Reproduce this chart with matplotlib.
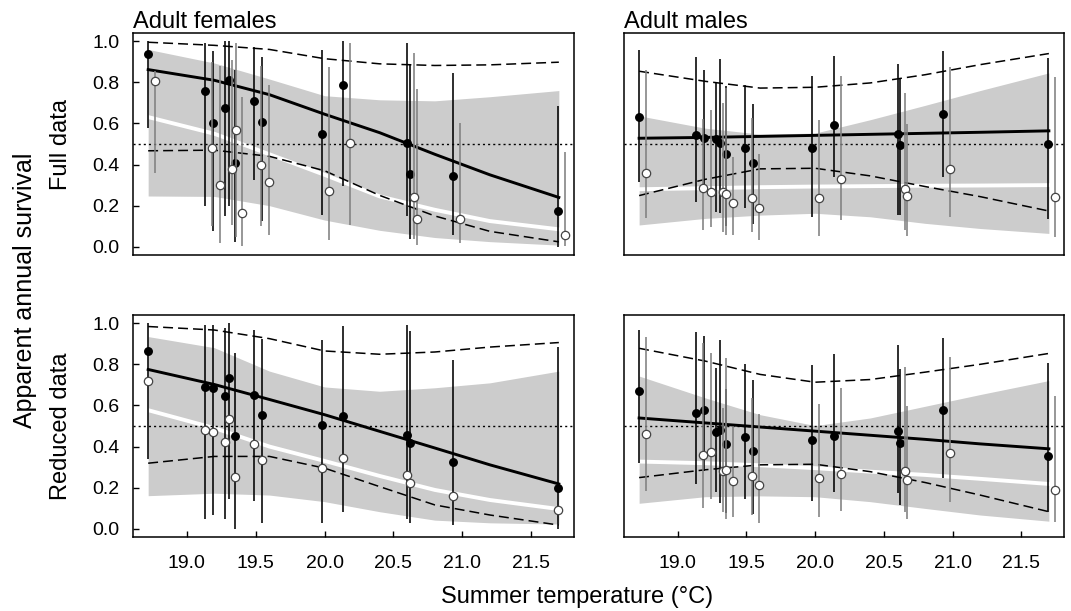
import matplotlib
matplotlib.use("Agg")
import matplotlib.pyplot as plt

plt.rcParams['font.family'] = ['Liberation Sans', 'DejaVu Sans']

# summer temperature of each year; open points are drawn slightly to the right
temps = [18.72, 19.135, 19.19, 19.28, 19.305, 19.35, 19.49, 19.545,
         19.98, 20.135, 20.6, 20.62, 20.93, 21.695]
open_shift = 0.05

# fitted curves are read at these temperatures
curve_t = [18.72, 19.2, 19.6, 20.0, 20.4, 20.8, 21.2, 21.7]

# ---- adult females, full data
ff_black = [0.938, 0.759, 0.602, 0.676, 0.813, 0.407, 0.707, 0.608, 0.551, 0.785, 0.507, 0.353, 0.346, 0.172]
ff_black_hi = [1.0, 0.99, 0.954, 1.0, 1.0, 0.862, 0.97, 0.924, 0.956, 1.0, 0.99, 0.886, 0.846, 0.686]
ff_black_lo = [0.577, 0.198, 0.078, 0.15, 0.2, 0.024, 0.325, 0.124, 0.154, 0.298, 0.15, 0.04, 0.057, 0.0]
ff_open = [0.805, 0.48, 0.302, 0.376, 0.569, 0.166, 0.398, 0.314, 0.27, 0.507, 0.242, 0.137, 0.133, 0.057]
ff_open_hi = [0.854, 0.9, 0.878, 0.91, 0.99, 0.728, 0.88, 0.785, 0.873, 0.99, 0.943, 0.77, 0.6, 0.463]
ff_open_lo = [0.361, 0.1, 0.02, 0.106, 0.05, 0.005, 0.1, 0.057, 0.033, 0.106, 0.04, 0.008, 0.016, 0.003]
ff_fit = [0.862, 0.81, 0.74, 0.645, 0.555, 0.45, 0.35, 0.24]
ff_band_hi = [0.96, 0.894, 0.816, 0.735, 0.715, 0.71, 0.73, 0.76]
ff_band_lo = [0.247, 0.245, 0.2, 0.13, 0.08, 0.045, 0.025, 0.008]
ff_white = [0.631, 0.55, 0.45, 0.35, 0.245, 0.18, 0.125, 0.085]
ff_dash_hi = [0.995, 0.98, 0.96, 0.915, 0.89, 0.882, 0.885, 0.898]
ff_dash_lo = [0.467, 0.47, 0.44, 0.37, 0.25, 0.15, 0.075, 0.024]

# ---- adult males, full data
mf_black = [0.629, 0.545, 0.528, 0.525, 0.504, 0.45, 0.481, 0.41, 0.48, 0.593, 0.548, 0.494, 0.647, 0.498]
mf_black_hi = [0.956, 0.924, 0.862, 0.8, 0.914, 0.78, 0.789, 0.694, 0.83, 0.93, 0.89, 0.816, 0.951, 0.919]
mf_black_lo = [0.317, 0.22, 0.3, 0.17, 0.166, 0.1, 0.187, 0.11, 0.146, 0.341, 0.154, 0.154, 0.341, 0.133]
mf_open = [0.358, 0.285, 0.268, 0.265, 0.255, 0.215, 0.236, 0.187, 0.236, 0.328, 0.283, 0.247, 0.379, 0.242]
mf_open_hi = [0.859, 0.62, 0.667, 0.7, 0.772, 0.436, 0.626, 0.45, 0.618, 0.83, 0.748, 0.598, 0.875, 0.826]
mf_open_lo = [0.141, 0.08, 0.094, 0.07, 0.057, 0.057, 0.07, 0.033, 0.052, 0.13, 0.081, 0.052, 0.143, 0.049]
mf_fit = [0.528, 0.532, 0.537, 0.542, 0.547, 0.552, 0.557, 0.564]
mf_band_hi = [0.637, 0.577, 0.548, 0.553, 0.618, 0.688, 0.76, 0.846]
mf_band_lo = [0.106, 0.138, 0.154, 0.163, 0.146, 0.114, 0.089, 0.065]
mf_white = [0.28, 0.285, 0.29, 0.293, 0.295, 0.297, 0.298, 0.3]
mf_dash_hi = [0.854, 0.805, 0.772, 0.776, 0.797, 0.837, 0.886, 0.94]
mf_dash_lo = [0.249, 0.328, 0.379, 0.382, 0.345, 0.293, 0.244, 0.174]

# ---- adult females, reduced data
fr_black = [0.865, 0.69, 0.687, 0.645, 0.735, 0.45, 0.65, 0.555, 0.507, 0.55, 0.456, 0.417, 0.326, 0.2]
fr_black_hi = [1.0, 0.99, 0.993, 0.979, 1.0, 0.857, 0.967, 0.922, 0.919, 0.987, 0.993, 0.96, 0.82, 0.886]
fr_black_lo = [0.339, 0.05, 0.067, 0.05, 0.145, 0.0, 0.135, 0.029, 0.029, 0.081, 0.05, 0.03, 0.018, 0.0]
fr_open = [0.718, 0.479, 0.471, 0.42, 0.536, 0.251, 0.414, 0.334, 0.295, 0.342, 0.261, 0.225, 0.158, 0.09]
fr_fit = [0.775, 0.702, 0.629, 0.555, 0.474, 0.393, 0.311, 0.218]
fr_band_hi = [0.935, 0.881, 0.767, 0.69, 0.669, 0.686, 0.71, 0.767]
fr_band_lo = [0.161, 0.173, 0.164, 0.132, 0.083, 0.042, 0.029, 0.023]
fr_white = [0.577, 0.49, 0.40, 0.33, 0.257, 0.189, 0.14, 0.096]
fr_dash_hi = [0.984, 0.967, 0.925, 0.865, 0.849, 0.86, 0.884, 0.906]
fr_dash_lo = [0.319, 0.352, 0.352, 0.295, 0.205, 0.116, 0.067, 0.018]

# ---- adult males, reduced data
mr_black = [0.669, 0.564, 0.58, 0.469, 0.479, 0.412, 0.446, 0.376, 0.43, 0.45, 0.477, 0.417, 0.577, 0.353]
mr_black_hi = [0.967, 0.959, 0.938, 0.78, 0.919, 0.678, 0.803, 0.726, 0.795, 0.852, 0.894, 0.775, 0.93, 0.805]
mr_black_lo = [0.319, 0.218, 0.283, 0.178, 0.124, 0.075, 0.145, 0.07, 0.137, 0.181, 0.176, 0.116, 0.246, 0.08]
mr_open = [0.461, 0.36, 0.375, 0.279, 0.287, 0.233, 0.259, 0.212, 0.249, 0.265, 0.28, 0.236, 0.37, 0.187]
mr_open_hi = [0.933, 0.906, 0.853, 0.588, 0.832, 0.498, 0.637, 0.56, 0.607, 0.686, 0.787, 0.596, 0.837, 0.645]
mr_open_lo = [0.186, 0.1, 0.145, 0.083, 0.05, 0.059, 0.067, 0.026, 0.055, 0.086, 0.083, 0.046, 0.132, 0.034]
mr_fit = [0.539, 0.515, 0.495, 0.475, 0.455, 0.435, 0.413, 0.389]
mr_band_hi = [0.743, 0.637, 0.555, 0.502, 0.539, 0.596, 0.653, 0.721]
mr_band_lo = [0.124, 0.156, 0.16, 0.156, 0.132, 0.099, 0.067, 0.037]
mr_white = [0.327, 0.319, 0.309, 0.295, 0.278, 0.262, 0.243, 0.218]
mr_dash_hi = [0.878, 0.816, 0.751, 0.713, 0.726, 0.762, 0.8, 0.853]
mr_dash_lo = [0.249, 0.287, 0.311, 0.314, 0.278, 0.225, 0.164, 0.083]

xticks = [19.0, 19.5, 20.0, 20.5, 21.0, 21.5]
yticks = [0.0, 0.2, 0.4, 0.6, 0.8, 1.0]


def draw_panel(ax, fit, band_lo, band_hi, white, dash_lo, dash_hi,
               black, black_lo, black_hi, opn, opn_lo=None, opn_hi=None, shift=True):
    ax.fill_between(curve_t, band_lo, band_hi, color='#cccccc', lw=0, zorder=1)
    ax.plot(curve_t, white, color='white', lw=2.8, zorder=2)
    ax.plot(curve_t, dash_hi, color='black', lw=1.1, ls=(0, (6.5, 3.3)), zorder=3)
    ax.plot(curve_t, dash_lo, color='black', lw=1.1, ls=(0, (6.5, 3.3)), zorder=3)
    ax.axhline(0.5, color='black', lw=1.0, ls=(0, (1.5, 2.2)), zorder=3)
    ax.plot(curve_t, fit, color='black', lw=2.1, zorder=4)

    ax.vlines(temps, black_lo, black_hi, color='black', lw=1.15, zorder=5)
    ax.plot(temps, black, 'o', color='black', ms=5.4, zorder=6)
    tx = [t + open_shift for t in temps] if shift else temps
    if opn_lo is not None:
        ax.vlines(tx, opn_lo, opn_hi, color='#808080', lw=1.15, zorder=7)
    ax.plot(tx, opn, 'o', mfc='white', mec='#444444', mew=0.9, ms=6, zorder=8)

    ax.set_xlim(18.61, 21.81)
    ax.set_ylim(-0.04, 1.04)
    for s in ax.spines.values():
        s.set_linewidth(1.1)


fig = plt.figure(figsize=(10.71, 6.11), dpi=100)
L1, R1 = 133 / 1071, 574 / 1071
L2, R2 = 624 / 1071, 1064 / 1071
T1, B1 = 1 - 33 / 611, 1 - 255 / 611
T2, B2 = 1 - 315 / 611, 1 - 537 / 611

ax_ff = fig.add_axes([L1, B1, R1 - L1, T1 - B1])
ax_mf = fig.add_axes([L2, B1, R2 - L2, T1 - B1])
ax_fr = fig.add_axes([L1, B2, R1 - L1, T2 - B2])
ax_mr = fig.add_axes([L2, B2, R2 - L2, T2 - B2])

draw_panel(ax_ff, ff_fit, ff_band_lo, ff_band_hi, ff_white, ff_dash_lo, ff_dash_hi,
           ff_black, ff_black_lo, ff_black_hi, ff_open, ff_open_lo, ff_open_hi)
draw_panel(ax_mf, mf_fit, mf_band_lo, mf_band_hi, mf_white, mf_dash_lo, mf_dash_hi,
           mf_black, mf_black_lo, mf_black_hi, mf_open, mf_open_lo, mf_open_hi)
draw_panel(ax_fr, fr_fit, fr_band_lo, fr_band_hi, fr_white, fr_dash_lo, fr_dash_hi,
           fr_black, fr_black_lo, fr_black_hi, fr_open, shift=False)
draw_panel(ax_mr, mr_fit, mr_band_lo, mr_band_hi, mr_white, mr_dash_lo, mr_dash_hi,
           mr_black, mr_black_lo, mr_black_hi, mr_open, mr_open_lo, mr_open_hi)

for ax in (ax_ff, ax_fr):
    ax.set_yticks(yticks)
    ax.set_yticklabels([f"{v:.1f}" for v in yticks])
    ax.tick_params(axis='y', direction='in', length=4, width=1, pad=9.5, labelsize=14)
for ax in (ax_mf, ax_mr):
    ax.set_yticks([])
for ax in (ax_ff, ax_mf):
    ax.set_xticks([])
for ax in (ax_fr, ax_mr):
    ax.set_xticks(xticks)
    ax.set_xticklabels([f"{v:.1f}" for v in xticks])
    ax.tick_params(axis='x', direction='in', length=4, width=1, pad=13, labelsize=14)

ax_ff.set_title("Adult females", loc='left', fontsize=17, pad=3.5)
ax_mf.set_title("Adult males", loc='left', fontsize=17, pad=3.5)

fig.text(0.057, (T1 + B1) / 2, "Full data", rotation=90, ha='center', va='center', fontsize=17)
fig.text(0.057, (T2 + B2) / 2, "Reduced data", rotation=90, ha='center', va='center', fontsize=17)
fig.text(0.023, 1 - 290 / 611, "Apparent annual survival", rotation=90, ha='center', va='center', fontsize=18)
fig.text(577 / 1071, 1 - 597 / 611, "Summer temperature (°C)", ha='center', va='center', fontsize=17)

fig.savefig("out.png", dpi=100)
